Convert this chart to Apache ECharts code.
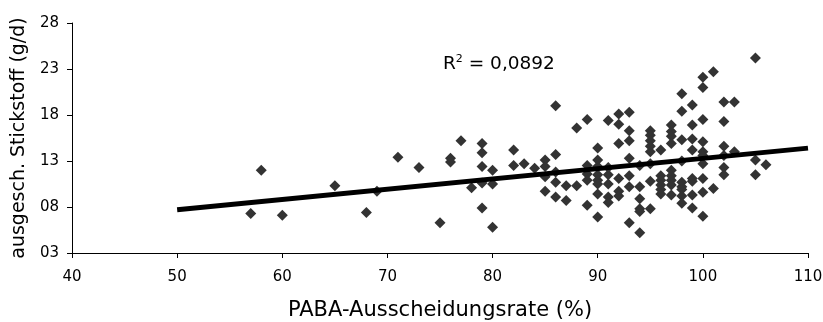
<!DOCTYPE html>
<html>
<head>
<meta charset="utf-8">
<script src="https://cdn.jsdelivr.net/npm/echarts@6/dist/echarts.min.js"></script>
<style>
  html, body { margin: 0; padding: 0; background: #fff; }
  #chart { width: 823px; height: 322px; }
</style>
</head>
<body>
<div id="chart"></div>
<script>
// PABA-Ausscheidungsrate (%) vs. ausgesch. Stickstoff (g/d)
const pabaRate = [
  57, 58, 60, 65, 68, 69, 71, 73, 75, 76, 76, 77, 78,
  79, 79, 79, 79, 79, 80, 80, 80, 82, 82, 83, 84,
  85, 85, 85, 85, 86, 86, 86, 86, 86, 87, 87, 88, 88,
  89, 89, 89, 89, 89,
  90, 90, 90, 90, 90, 90, 90, 90,
  91, 91, 91, 91, 91, 91,
  92, 92, 92, 92, 92, 92,
  93, 93, 93, 93, 93, 93, 93,
  94, 94, 94, 94, 94, 94,
  95, 95, 95, 95, 95, 95, 95, 95,
  96, 96, 96, 96, 96, 96,
  97, 97, 97, 97, 97, 97, 97, 97, 97,
  98, 98, 98, 98, 98, 98, 98, 98, 98,
  99, 99, 99, 99, 99, 99, 99, 99,
  100, 100, 100, 100, 100, 100, 100, 100, 100, 100,
  101, 101,
  102, 102, 102, 102, 102, 102,
  103, 103,
  105, 105, 105, 106
];
const stickstoff = [
  7.3, 12.0, 7.1, 10.3, 7.4, 9.7, 13.4, 12.3, 6.3, 13.3, 12.9, 15.2, 10.1,
  14.9, 13.9, 12.4, 10.6, 7.9, 12.0, 10.5, 5.8, 14.2, 12.5, 12.7, 12.2,
  13.1, 12.4, 11.3, 9.7, 19.0, 13.7, 11.8, 10.7, 9.1, 10.3, 8.7, 16.6, 10.3,
  17.5, 12.5, 11.6, 10.9, 8.2,
  14.4, 13.1, 12.4, 11.5, 10.9, 10.5, 9.4, 6.9,
  17.4, 12.3, 11.5, 10.5, 9.1, 8.5,
  18.1, 17.0, 14.9, 11.1, 9.7, 9.2,
  18.3, 16.3, 15.2, 13.3, 11.4, 10.2, 6.3,
  12.5, 10.2, 8.9, 7.8, 7.5, 5.2,
  16.3, 15.8, 15.2, 14.6, 14.0, 12.7, 10.8, 7.8,
  14.2, 11.4, 10.9, 10.4, 9.9, 9.4,
  16.9, 16.2, 15.7, 14.9, 12.0, 11.4, 10.9, 10.4, 9.3,
  20.3, 18.4, 15.3, 13.0, 10.7, 10.2, 9.9, 9.2, 8.4,
  19.1, 16.9, 15.4, 14.2, 11.1, 10.8, 9.3, 7.9,
  22.1, 21.0, 17.5, 15.1, 14.0, 13.6, 12.7, 11.1, 9.6, 7.0,
  22.7, 10.0,
  19.4, 17.3, 14.6, 13.6, 12.3, 11.5,
  19.4, 14.0,
  24.2, 13.1, 11.5, 12.6
];

// linear trend line, ends
const trendX = [50, 110];
const trendY = [7.7, 14.4];

const xTicks = { min: 40, max: 110, interval: 10 };
const yTicks = { min: 3, max: 28, interval: 5 };

const rSquared = '0,0892';

const chartDom = document.getElementById('chart');
const myChart = echarts.init(chartDom);

const font = 'DejaVu Sans';

const option = {
    animation: false,
    textStyle: { fontFamily: font },
    grid: {
        left: 72,
        right: 15,
        top: 23,
        bottom: 69,
        outerBoundsMode: 'none'
    },
    xAxis: {
        type: 'value',
        min: xTicks.min,
        max: xTicks.max,
        interval: xTicks.interval,
        name: 'PABA-Ausscheidungsrate (%)',
        nameLocation: 'middle',
        nameGap: 47,
        nameTextStyle: { fontSize: 21, color: '#000', fontFamily: font },
        axisLine: { onZero: false, lineStyle: { color: '#000', width: 1 } },
        axisTick: { show: true, length: 5, lineStyle: { color: '#000' } },
        axisLabel: { fontSize: 15, color: '#000', margin: 17, fontFamily: font },
        splitLine: { show: false }
    },
    yAxis: {
        type: 'value',
        min: yTicks.min,
        max: yTicks.max,
        interval: yTicks.interval,
        name: 'ausgesch. Stickstoff (g/d)',
        nameLocation: 'middle',
        nameGap: 40,
        nameTextStyle: { fontSize: 19, color: '#000', fontFamily: font },
        axisLine: { show: true, onZero: false, lineStyle: { color: '#000', width: 1 } },
        axisTick: { show: true, length: 5, lineStyle: { color: '#000' } },
        axisLabel: {
            fontSize: 15,
            color: '#000',
            margin: 13,
            fontFamily: font,
            formatter: function (v) {
                return v < 10 ? '0' + v : String(v);
            }
        },
        splitLine: { show: false }
    },
    graphic: [
        {
            type: 'text',
            left: 443,
            top: 54,
            style: {
                text: '{b|R}{s|2}{b| = ' + rSquared + '}',
                rich: {
                    b: { fontSize: 18.5, fontFamily: font, color: '#000' },
                    s: { fontSize: 11, fontFamily: font, verticalAlign: 'top', color: '#000', padding: [0, 0, 9, 0] }
                }
            }
        }
    ],
    series: [
        {
            type: 'scatter',
            symbol: 'diamond',
            symbolSize: 11,
            itemStyle: { color: '#333333', opacity: 1 },
            data: pabaRate.map((x, i) => [x, stickstoff[i]]),
            z: 2
        },
        {
            type: 'line',
            data: trendX.map((x, i) => [x, trendY[i]]),
            showSymbol: false,
            symbol: 'none',
            lineStyle: { color: '#000', width: 5 },
            z: 3
        }
    ]
};

myChart.setOption(option);

window.addEventListener('resize', () => {
    myChart.resize();
});
</script>
</body>
</html>
